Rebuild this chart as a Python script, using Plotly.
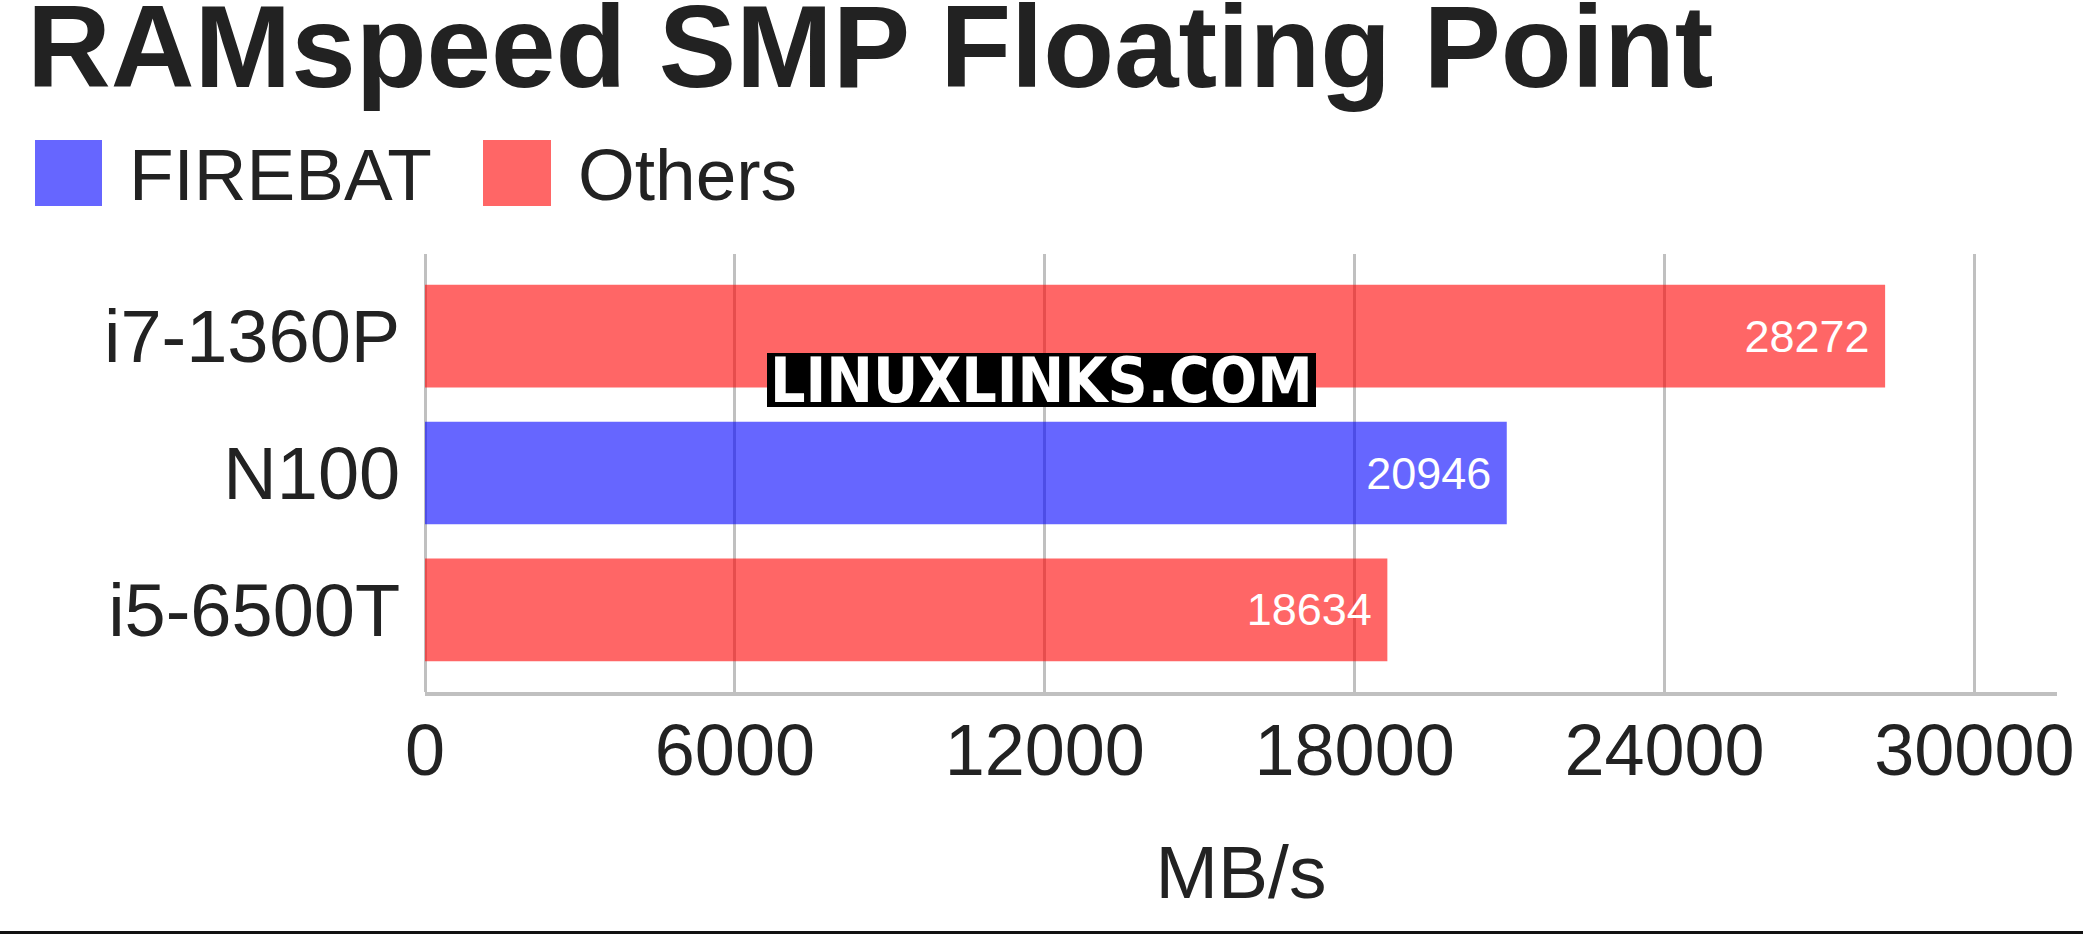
import plotly.graph_objects as go

categories = ["i7-1360P", "N100", "i5-6500T"]
values = [28272, 20946, 18634]
groups = ["Others", "FIREBAT", "Others"]
x_ticks = [0, 6000, 12000, 18000, 24000, 30000]

series_colors = {"FIREBAT": "rgba(0,0,255,0.6)", "Others": "rgba(255,0,0,0.6)"}
legend_colors = {"FIREBAT": "#6666FF", "Others": "#FF6666"}

W, H = 2083, 935
L, R, T, B = 425, 2057, 254, 692
PW, PH = R - L, B - T


def px(xp):
    return (xp - L) / PW


def py(yp):
    return (B - yp) / PH


fig = go.Figure()
for g in ["FIREBAT", "Others"]:
    ys = [c for c, gg in zip(categories, groups) if gg == g]
    xs = [v for v, gg in zip(values, groups) if gg == g]
    fig.add_trace(go.Bar(
        y=ys, x=xs, orientation="h", name=g,
        marker=dict(color=series_colors[g], line=dict(width=0)),
        text=[str(v) for v in xs],
        texttemplate="%{text}\u00a0",
        textposition="inside", insidetextanchor="end",
        insidetextfont=dict(family="Liberation Sans, Arial, sans-serif", size=45, color="white"),
        showlegend=False,
        cliponaxis=False,
    ))

fig.update_layout(
    width=W, height=H,
    margin=dict(l=L, r=W - R, t=T, b=H - B, autoexpand=False),
    paper_bgcolor="white", plot_bgcolor="white",
    barmode="overlay", bargap=0.25,
    font=dict(family="Liberation Sans, Arial, sans-serif", color="#222222"),
    showlegend=False,
    xaxis=dict(
        range=[0, 31600], tickvals=x_ticks, ticktext=[str(t) for t in x_ticks],
        showgrid=True, gridcolor="#c0c0c0", gridwidth=3,
        zeroline=True, zerolinecolor="#c0c0c0", zerolinewidth=3,
        showline=True, linecolor="#c0c0c0", linewidth=4,
        ticks="", ticklabelstandoff=-7,
        tickfont=dict(size=72, color="#222222"),
        title=dict(text="MB/s", font=dict(size=75, color="#222222"), standoff=57),
        automargin=False, layer="below traces",
    ),
    yaxis=dict(
        categoryorder="array", categoryarray=categories,
        range=[2.6, -0.6],
        showgrid=False, zeroline=False, showline=False,
        ticks="outside", ticklen=9, tickcolor="rgba(0,0,0,0)",
        tickfont=dict(size=74, color="#222222"),
        automargin=False,
    ),
)

# Title
fig.add_annotation(
    text="<b>RAMspeed SMP Floating Point</b>", xref="paper", yref="paper",
    x=px(25), y=py(46.5), xanchor="left", yanchor="middle", showarrow=False,
    font=dict(family="Liberation Sans, Arial, sans-serif", size=116, color="#222222"),
)

# Legend (manual, large swatches)
legend_items = [("FIREBAT", 35, 102, 127), ("Others", 483, 551, 576)]
for name, x0, x1, tx in legend_items:
    fig.add_shape(type="rect", xref="paper", yref="paper",
                  x0=px(x0), x1=px(x1), y0=py(206), y1=py(140),
                  fillcolor=legend_colors[name], line=dict(width=0), layer="above")
    fig.add_annotation(text=name, xref="paper", yref="paper",
                       x=px(tx), y=py(174.5), xanchor="left", yanchor="middle",
                       showarrow=False,
                       font=dict(family="Liberation Sans, Arial, sans-serif", size=73, color="#222222"))

# Watermark
fig.add_shape(type="rect", xref="paper", yref="paper",
              x0=px(767), x1=px(1316), y0=py(407), y1=py(353),
              fillcolor="black", line=dict(width=0), layer="above")
fig.add_annotation(text="<b>LINUXLINKS.COM</b>", xref="paper", yref="paper",
                   x=px(1041.5), y=py(380), xanchor="center", yanchor="middle",
                   showarrow=False,
                   font=dict(family="DejaVu Sans Condensed, DejaVu Sans, sans-serif", size=62, color="white"))

# Bottom rule
fig.add_shape(type="line", xref="paper", yref="paper",
              x0=px(0), x1=px(W), y0=py(932.5), y1=py(932.5),
              line=dict(color="#111111", width=3), layer="above")

fig.write_html("out.html",
               config={"displayModeBar": False},
               post_script="document.body.style.margin='0';document.body.style.overflow='hidden';")
